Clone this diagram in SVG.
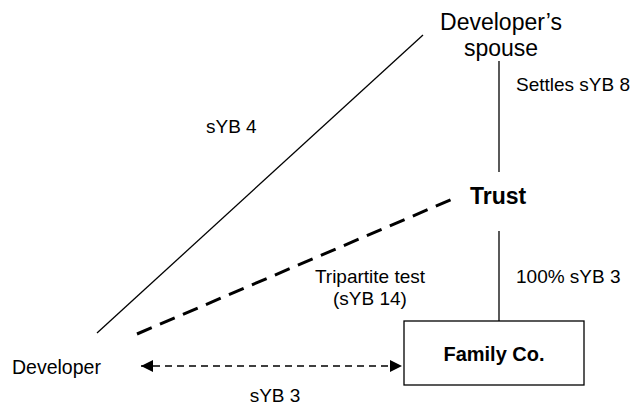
<svg xmlns="http://www.w3.org/2000/svg" width="632" height="410" viewBox="0 0 632 410">
<defs>
<style>
text{font-family:"Liberation Sans",Arial,sans-serif;font-size:19px;fill:#000}
.b{font-weight:bold}
.m{text-anchor:middle}
.big{font-size:23px}
.ln{stroke:#000;stroke-width:1.3;fill:none}
.dl{stroke:#000;stroke-width:3;fill:none;stroke-dasharray:16 9}
.da{stroke:#000;stroke-width:1.3;fill:none;stroke-dasharray:7 5}
</style>
<marker id="ah" viewBox="0 0 10 10" refX="10" refY="5" markerWidth="14" markerHeight="12" markerUnits="userSpaceOnUse" orient="auto-start-reverse">
<path d="M0,0 L10,5 L0,10 Z" fill="#000"/>
</marker>
</defs>
<rect width="632" height="410" fill="#fff"/>
<g id="connectors">
<line class="ln" x1="97" y1="333" x2="423" y2="35"/>
<line class="dl" x1="137" y1="334" x2="455" y2="198"/>
<line class="ln" x1="499" y1="61" x2="499" y2="172"/>
<line class="ln" x1="499" y1="231" x2="499" y2="321"/>
<line class="da" x1="141" y1="366" x2="402" y2="366" marker-start="url(#ah)" marker-end="url(#ah)"/>
<text x="206" y="133">sYB 4</text>
<text x="516" y="91">Settles sYB 8</text>
<text class="m" x="370" y="283">Tripartite test</text>
<text class="m" x="370" y="305">(sYB 14)</text>
<text x="516" y="283">100% sYB 3</text>
<text class="m" x="275" y="402">sYB 3</text>
</g>
<g id="spouse">
<text class="m big" x="501" y="30">Developer’s</text>
<text class="m big" x="501" y="56">spouse</text>
</g>
<g id="trust">
<text class="b big" x="470" y="204">Trust</text>
</g>
<g id="developer">
<text x="12" y="374" style="font-size:19.5px">Developer</text>
</g>
<g id="familyco">
<rect x="404" y="321" width="180" height="64" fill="#fff" stroke="#000" stroke-width="1.3"/>
<text class="b m" x="494" y="361" style="font-size:20px">Family Co.</text>
</g>
</svg>
